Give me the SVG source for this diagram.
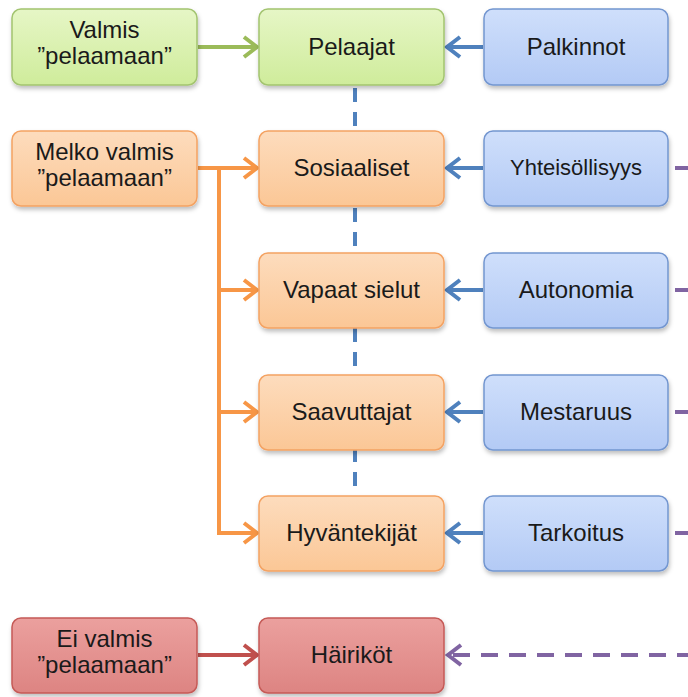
<svg xmlns="http://www.w3.org/2000/svg" width="688" height="697" viewBox="0 0 688 697">
<defs>
<linearGradient id="gG" x1="0" y1="0" x2="0" y2="1"><stop offset="0" stop-color="#e6f6c6"/><stop offset="1" stop-color="#cfec9b"/></linearGradient>
<linearGradient id="gO" x1="0" y1="0" x2="0" y2="1"><stop offset="0" stop-color="#fddcbd"/><stop offset="1" stop-color="#fbc796"/></linearGradient>
<linearGradient id="gB" x1="0" y1="0" x2="0" y2="1"><stop offset="0" stop-color="#cfdffb"/><stop offset="1" stop-color="#b3caf5"/></linearGradient>
<linearGradient id="gR" x1="0" y1="0" x2="0" y2="1"><stop offset="0" stop-color="#eba09e"/><stop offset="1" stop-color="#dd8482"/></linearGradient>
<filter id="sh" x="-10%" y="-10%" width="130%" height="140%"><feDropShadow dx="1" dy="3" stdDeviation="2" flood-color="#000" flood-opacity="0.25"/></filter>
<marker id="mG" markerUnits="userSpaceOnUse" markerWidth="22" markerHeight="26" refX="17" refY="13" orient="auto"><path d="M4,3 L17,13 L4,23" fill="none" stroke="#9bbb59" stroke-width="4"/></marker>
<marker id="mO" markerUnits="userSpaceOnUse" markerWidth="22" markerHeight="26" refX="17" refY="13" orient="auto"><path d="M4,3 L17,13 L4,23" fill="none" stroke="#f79646" stroke-width="4"/></marker>
<marker id="mB" markerUnits="userSpaceOnUse" markerWidth="22" markerHeight="26" refX="17" refY="13" orient="auto"><path d="M4,3 L17,13 L4,23" fill="none" stroke="#4f81bd" stroke-width="4"/></marker>
<marker id="mR" markerUnits="userSpaceOnUse" markerWidth="22" markerHeight="26" refX="17" refY="13" orient="auto"><path d="M4,3 L17,13 L4,23" fill="none" stroke="#c0504d" stroke-width="4"/></marker>
<marker id="mP" markerUnits="userSpaceOnUse" markerWidth="22" markerHeight="26" refX="17" refY="13" orient="auto"><path d="M4,3 L17,13 L4,23" fill="none" stroke="#8064a2" stroke-width="4"/></marker>
</defs>
<style>
rect{stroke-width:1.5;filter:url(#sh)}
.g{fill:url(#gG);stroke:#a3c46f}
.o{fill:url(#gO);stroke:#f4a262}
.b{fill:url(#gB);stroke:#7396d0}
.r{fill:url(#gR);stroke:#c55a57}
text{font-family:"Liberation Sans",Arial,sans-serif;font-size:24px;fill:#1a1a1a;text-anchor:middle}
.c line,.c path{fill:none;stroke-width:4}
</style>
<g id="connectors" class="c">
<line x1="355" y1="85" x2="355" y2="496" stroke="#4f81bd" stroke-dasharray="14 10" stroke-dashoffset="-3"/>
<line x1="198" y1="47" x2="257" y2="47" stroke="#9bbb59" marker-end="url(#mG)"/>
<line x1="483" y1="47" x2="447" y2="47" stroke="#4f81bd" marker-end="url(#mB)"/>
<line x1="483" y1="168" x2="447" y2="168" stroke="#4f81bd" marker-end="url(#mB)"/>
<line x1="483" y1="290" x2="447" y2="290" stroke="#4f81bd" marker-end="url(#mB)"/>
<line x1="483" y1="412" x2="447" y2="412" stroke="#4f81bd" marker-end="url(#mB)"/>
<line x1="483" y1="533" x2="447" y2="533" stroke="#4f81bd" marker-end="url(#mB)"/>
<line x1="198" y1="168" x2="257" y2="168" stroke="#f79646" marker-end="url(#mO)"/>
<line x1="219" y1="166" x2="219" y2="535" stroke="#f79646"/>
<line x1="219" y1="290" x2="257" y2="290" stroke="#f79646" marker-end="url(#mO)"/>
<line x1="219" y1="412" x2="257" y2="412" stroke="#f79646" marker-end="url(#mO)"/>
<line x1="217" y1="533" x2="257" y2="533" stroke="#f79646" marker-end="url(#mO)"/>
<line x1="198" y1="655" x2="257" y2="655" stroke="#c0504d" marker-end="url(#mR)"/>
<line x1="675" y1="168" x2="688" y2="168" stroke="#8064a2"/>
<line x1="675" y1="290" x2="688" y2="290" stroke="#8064a2"/>
<line x1="675" y1="412" x2="688" y2="412" stroke="#8064a2"/>
<line x1="675" y1="533" x2="688" y2="533" stroke="#8064a2"/>
<line x1="688" y1="655" x2="448" y2="655" stroke="#8064a2" stroke-dasharray="17 11" stroke-dashoffset="6" marker-end="url(#mP)"/>
</g>
<g id="valmis"><rect class="g" x="12" y="9" width="185" height="76" rx="9"/><text x="104.5" y="38">Valmis</text><text x="104.5" y="64">”pelaamaan”</text></g>
<g id="pelaajat"><rect class="g" x="259" y="9" width="185" height="76" rx="9"/><text x="351.5" y="55">Pelaajat</text></g>
<g id="palkinnot"><rect class="b" x="484" y="9" width="184" height="76" rx="9"/><text x="576" y="55">Palkinnot</text></g>
<g id="melko"><rect class="o" x="12" y="131" width="185" height="75" rx="9"/><text x="104.5" y="160">Melko valmis</text><text x="104.5" y="186">”pelaamaan”</text></g>
<g id="sosiaaliset"><rect class="o" x="259" y="131" width="185" height="75" rx="9"/><text x="351.5" y="176">Sosiaaliset</text></g>
<g id="yhteisollisyys"><rect class="b" x="484" y="131" width="184" height="75" rx="9"/><text x="576" y="175" style="font-size:22px">Yhteisöllisyys</text></g>
<g id="vapaat"><rect class="o" x="259" y="253" width="185" height="75" rx="9"/><text x="351.5" y="298">Vapaat sielut</text></g>
<g id="autonomia"><rect class="b" x="484" y="253" width="184" height="75" rx="9"/><text x="576" y="298">Autonomia</text></g>
<g id="saavuttajat"><rect class="o" x="259" y="375" width="185" height="75" rx="9"/><text x="351.5" y="420">Saavuttajat</text></g>
<g id="mestaruus"><rect class="b" x="484" y="375" width="184" height="75" rx="9"/><text x="576" y="420">Mestaruus</text></g>
<g id="hyvantekijat"><rect class="o" x="259" y="496" width="185" height="75" rx="9"/><text x="351.5" y="541">Hyväntekijät</text></g>
<g id="tarkoitus"><rect class="b" x="484" y="496" width="184" height="75" rx="9"/><text x="576" y="541">Tarkoitus</text></g>
<g id="eivalmis"><rect class="r" x="12" y="618" width="185" height="75" rx="9"/><text x="104.5" y="647">Ei valmis</text><text x="104.5" y="673">”pelaamaan”</text></g>
<g id="hairikot"><rect class="r" x="259" y="618" width="185" height="75" rx="9"/><text x="351.5" y="663">Häiriköt</text></g>
</svg>
